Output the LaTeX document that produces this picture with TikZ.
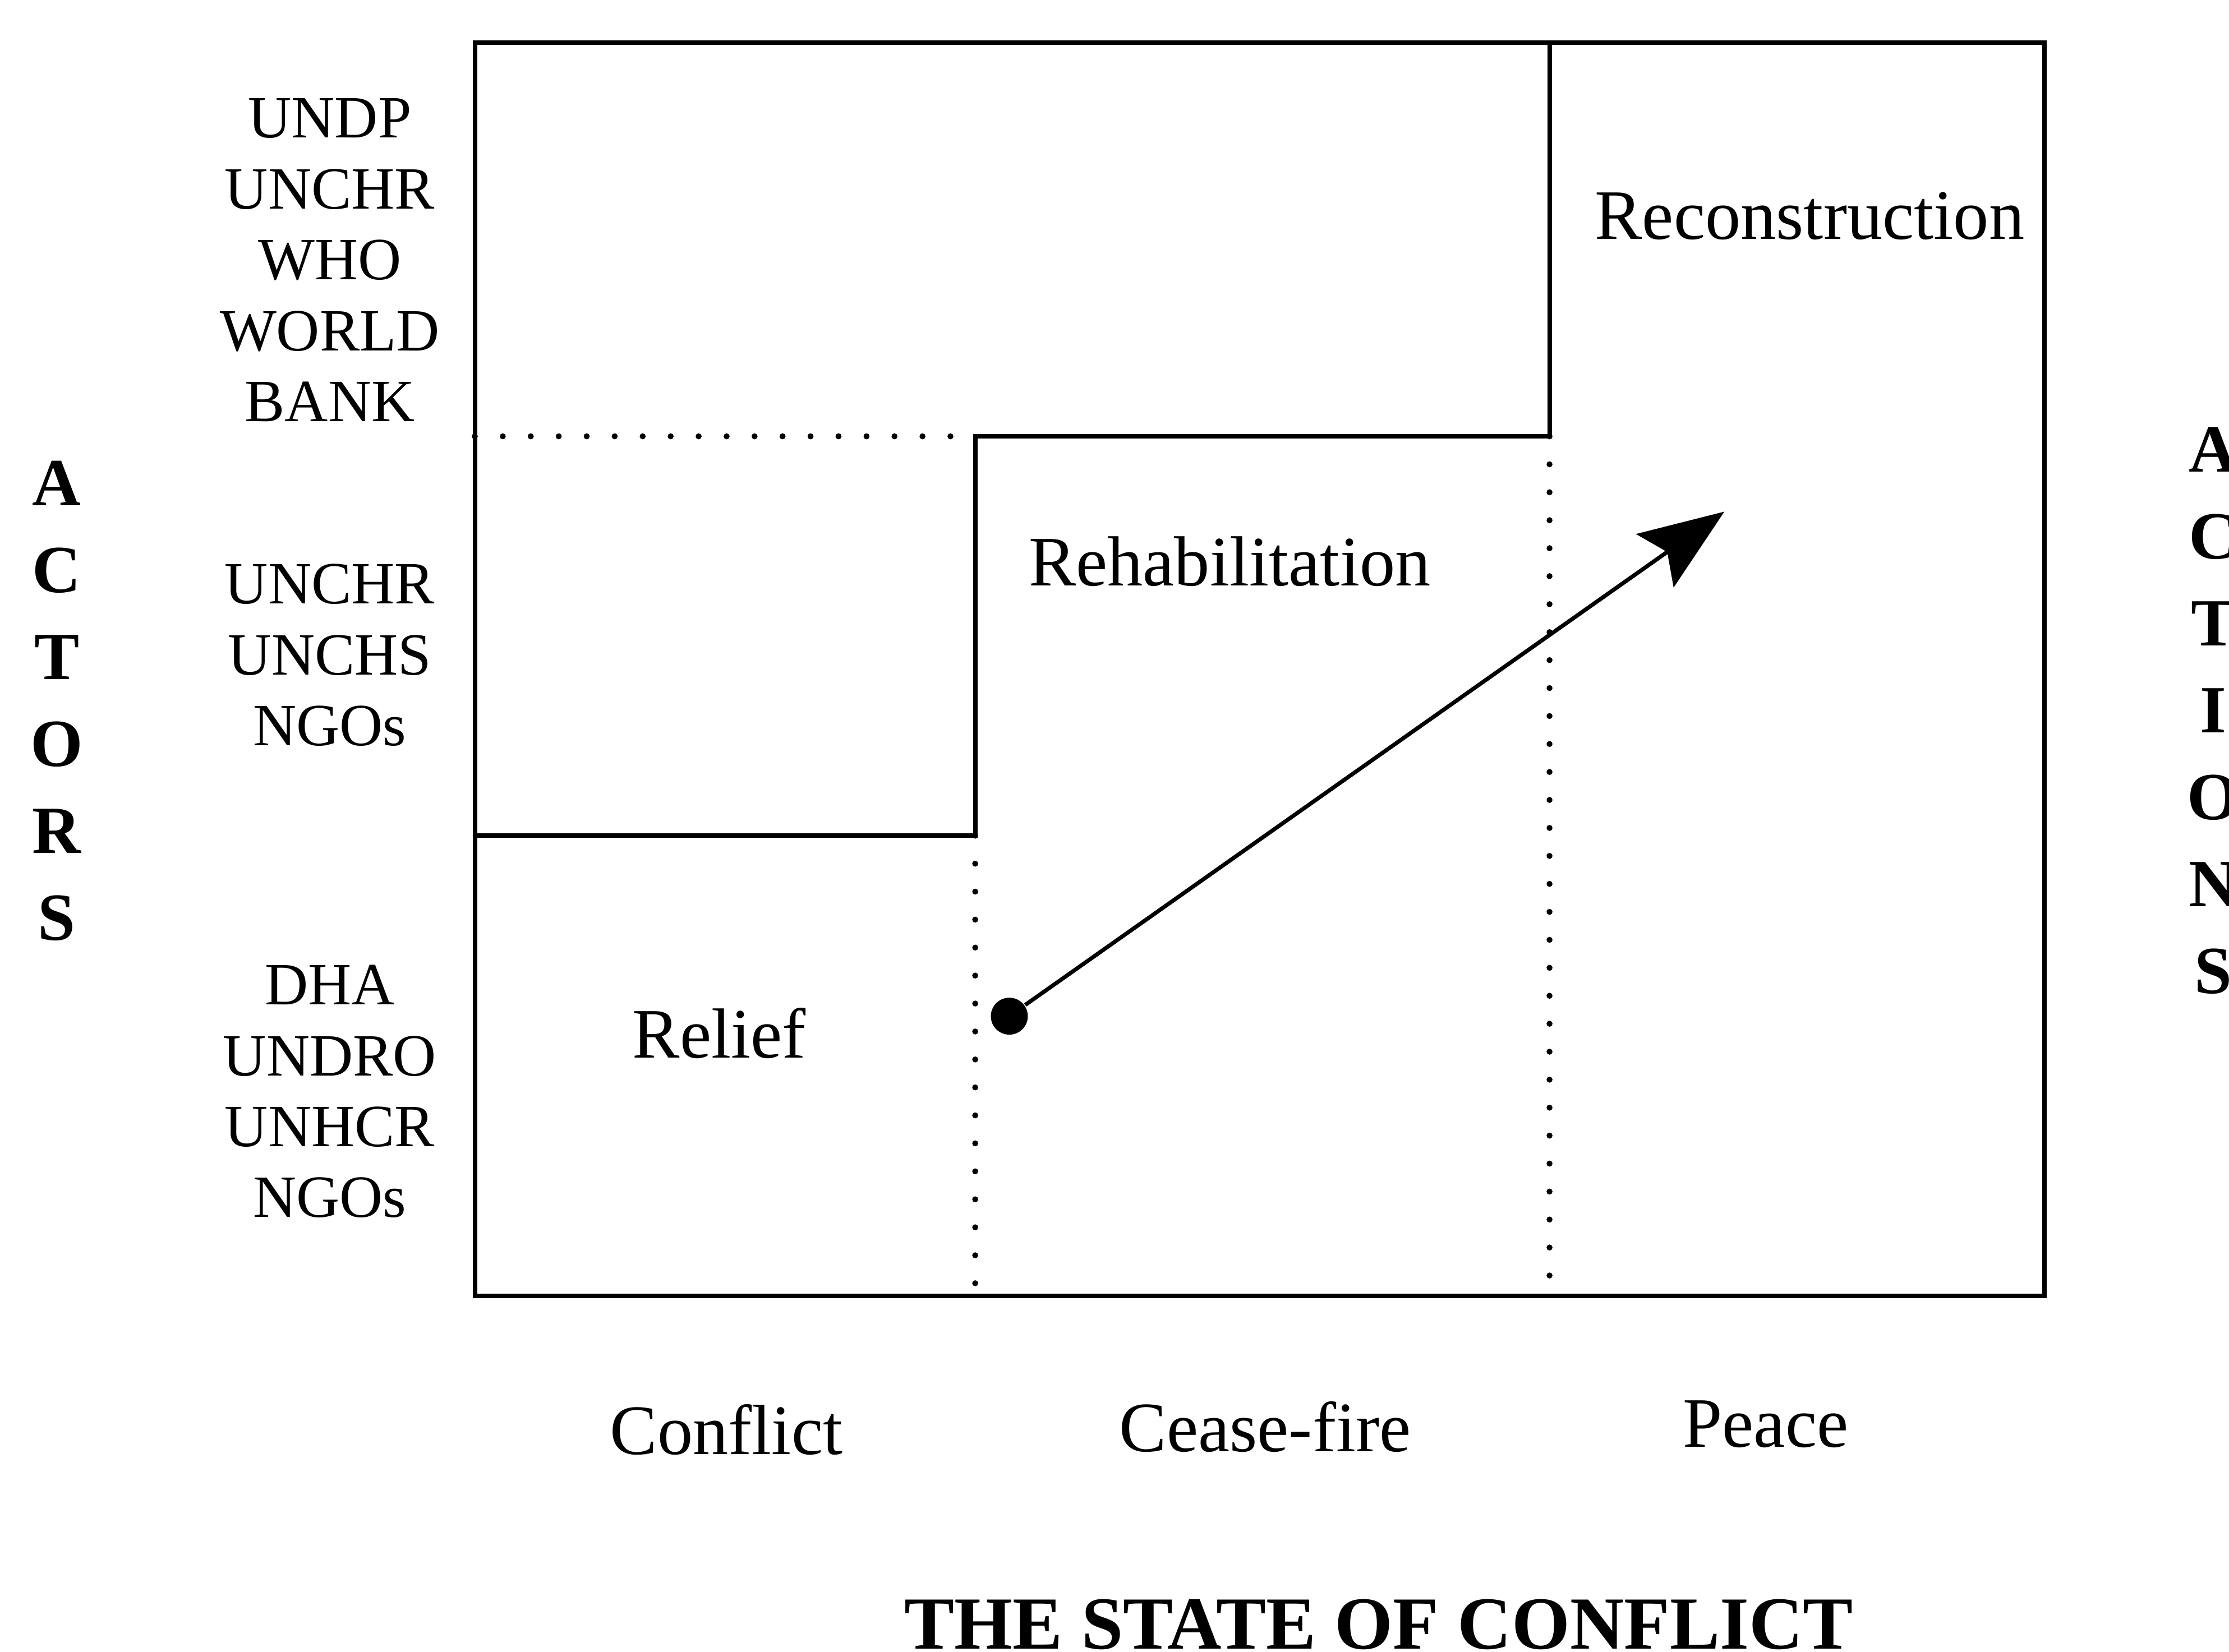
\documentclass[tikz,border=0pt]{standalone}
\usepackage{fontspec}
\setmainfont{Liberation Serif}
\usetikzlibrary{arrows.meta}

\begin{document}
\begin{tikzpicture}
\useasboundingbox (0,0) rectangle (15.68,11.62);
\begin{scope}[line width=0.9pt]
    \draw (3.34,2.50) rectangle (14.38,11.32);
    \draw (10.90,11.32) -- (10.90,8.55) -- (6.86,8.55) -- (6.86,5.74) -- (3.34,5.74);
\end{scope}
\begin{scope}[line width=1.2pt, dash pattern=on 0pt off 5.6pt, line cap=round]
    \draw (3.34,8.55) -- (6.86,8.55);
    \draw (6.86,5.74) -- (6.86,2.50);
    \draw (10.90,8.55) -- (10.90,2.50);
\end{scope}
\begin{scope}[every node/.style={align=center, font=\fontsize{12}{14.2}\selectfont}]
    \node (top) at (2.32,9.79) {UNDP\\UNCHR\\WHO\\WORLD\\BANK};
    \node (mid) at (2.32,7.01) {UNCHR\\UNCHS\\NGOs};
    \node (low) at (2.32,3.94) {DHA\\UNDRO\\UNHCR\\NGOs};
\end{scope}
\begin{scope}[every node/.style={font=\fontsize{14.2}{17}\selectfont}]
    \node (recon) at (12.73,10.10) {Reconstruction};
    \node (rehab) at (8.65,7.67) {Rehabilitation};
    \node (relief) at (5.06,4.35) {Relief};
    \node (conflict) at (5.11,1.56) {Conflict};
    \node (cease) at (8.90,1.58) {Cease-fire};
    \node (peace) at (12.42,1.60) {Peace};
\end{scope}
\begin{scope}[every node/.style={align=center, font=\bfseries\fontsize{13.5}{17.4}\selectfont}]
    \node (actors) at (0.40,6.69) {A\\C\\T\\O\\R\\S};
    \node (actions) at (15.57,6.62) {A\\C\\T\\I\\O\\N\\S};
    \node[anchor=base, font=\bfseries\fontsize{15}{18}\selectfont] (state) at (9.70,0.02) {THE STATE OF CONFLICT};
\end{scope}
\node[circle, fill, inner sep=0pt, minimum size=0.26cm] (start) at (7.10,4.47) {};
\coordinate (goal) at (12.13,8.02);
\draw[line width=0.8pt, -{Stealth[length=17pt, width=13pt, inset=3pt]}] (start) -- (goal);
\end{tikzpicture}
\end{document}
